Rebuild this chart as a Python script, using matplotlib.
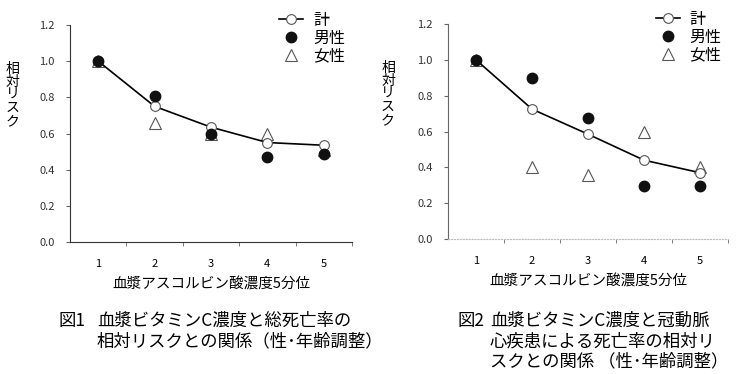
import matplotlib
matplotlib.use('Agg')
import matplotlib.pyplot as plt

plt.rcParams['font.family'] = ['Noto Sans CJK JP', 'DejaVu Sans']

quintiles = [1, 2, 3, 4, 5]
yticks = [0.0, 0.2, 0.4, 0.6, 0.8, 1.0, 1.2]

# 図1: total mortality
total1 = [1.00, 0.75, 0.635, 0.55, 0.535]
men1 = [1.00, 0.805, 0.595, 0.47, 0.485]
women1 = [1.00, 0.66, 0.60, 0.60, 0.51]

# 図2: coronary heart disease mortality
total2 = [1.00, 0.725, 0.585, 0.44, 0.37]
men2 = [1.00, 0.90, 0.675, 0.295, 0.295]
women2 = [1.00, 0.40, 0.36, 0.60, 0.40]

labels = ['計', '男性', '女性']
xlabel = '血漿アスコルビン酸濃度5分位'
ylabel = '相\n対\nリ\nス\nク'
cap1 = ['図1', '血漿ビタミンC濃度と総死亡率の\n相対リスクとの関係（性･年齢調整）']
cap2 = ['図2', '血漿ビタミンC濃度と冠動脈\n心疾患による死亡率の相対リ\nスクとの関係 （性･年齢調整）']

fig = plt.figure(figsize=(7.37, 3.74), dpi=100)
W, H = 737, 374


def add_ax(l, r, t, b):
    return fig.add_axes([l / W, 1 - b / H, (r - l) / W, (b - t) / H])


def draw(ax, tot, men, wom, faint=False):
    ax.plot(quintiles, tot, color='black', lw=1.2, marker='o', ms=7,
            mfc='white', mec='#555555', mew=0.8, label=labels[0], zorder=3)
    ax.plot(quintiles, men, ls='none', marker='o', ms=7.5, color='#111111',
            label=labels[1], zorder=4)
    ax.plot(quintiles, wom, ls='none', marker='^', ms=8, mfc='none',
            mec='#555555', mew=0.8, label=labels[2], zorder=2)
    ax.set_xlim(0.5, 5.5)
    ax.set_ylim(0, 1.2)
    ax.set_yticks(yticks)
    ax.set_yticklabels([f'{v:.1f}' for v in yticks])
    ax.set_xticks(quintiles)
    ax.set_xticks([1.5, 2.5, 3.5, 4.5, 5.5], minor=True)
    ax.tick_params(axis='x', which='major', length=0, pad=12, labelsize=8)
    ax.tick_params(axis='x', which='minor', length=3, direction='out', color='#666666')
    ax.tick_params(axis='y', length=3, direction='out', labelsize=8, pad=8,
                   labelcolor='#333333', color='#666666')
    for s in ('top', 'right'):
        ax.spines[s].set_visible(False)
    if faint:
        ax.spines['bottom'].set_color('#bbbbbb')
        ax.spines['bottom'].set_linestyle(':')
        ax.spines['left'].set_color('#666666')
    else:
        ax.spines['bottom'].set_color('#333333')
        ax.spines['left'].set_color('#333333')
    ax.set_xlabel(xlabel, fontsize=10.5, labelpad=6)
    ax.legend(loc='upper left', bbox_to_anchor=(0.72, 1.09), frameon=False,
              fontsize=11.5, handlelength=1.5, handletextpad=0.6,
              labelspacing=0.05, borderaxespad=0)


ax1 = add_ax(70, 352, 25, 242)
draw(ax1, total1, men1, women1)
ax2 = add_ax(448, 728, 24, 239)
draw(ax2, total2, men2, women2, faint=True)

fig.text(13 / W, 1 - 95 / H, ylabel, ha='center', va='center', fontsize=10,
         linespacing=0.92)
fig.text(388 / W, 1 - 94 / H, ylabel, ha='center', va='center', fontsize=10,
         linespacing=0.92)

fig.text(58 / W, 1 - 312 / H, cap1[0], ha='left', va='top', fontsize=12.5)
fig.text(97 / W, 1 - 312 / H, cap1[1], ha='left', va='top', fontsize=12.5,
         linespacing=1.15)
fig.text(458 / W, 1 - 312 / H, cap2[0], ha='left', va='top', fontsize=12.5)
fig.text(490 / W, 1 - 312 / H, cap2[1], ha='left', va='top', fontsize=12.5,
         linespacing=1.15)

fig.savefig('out.png', dpi=100, facecolor='white')
